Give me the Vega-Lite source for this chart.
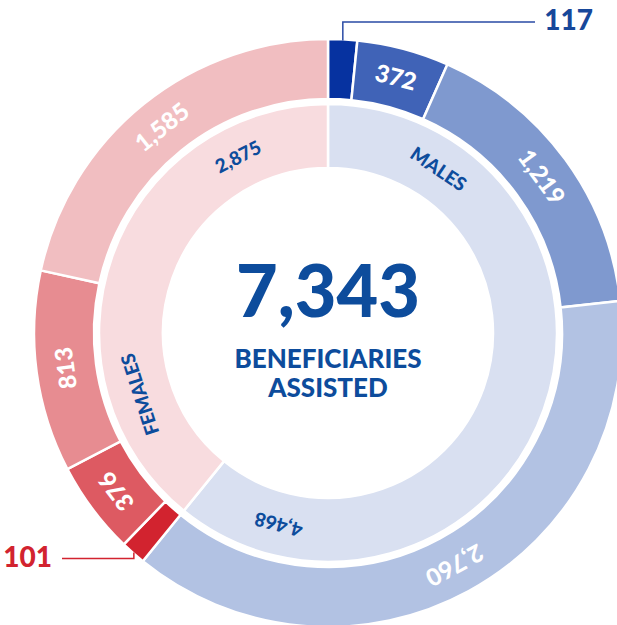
{
  "$schema": "https://vega.github.io/schema/vega-lite/v6.json",
  "width": 617,
  "height": 625,
  "autosize": "none",
  "padding": 0,
  "background": "white",
  "config": {"view": {"stroke": null}, "text": {"font": "Lato"}},
  "datasets": {
    "segments": [
      {"ring": "outer", "gender": "Males", "seg": "M1", "i": 1, "value": 117},
      {"ring": "outer", "gender": "Males", "seg": "M2", "i": 2, "value": 372},
      {"ring": "outer", "gender": "Males", "seg": "M3", "i": 3, "value": 1219},
      {"ring": "outer", "gender": "Males", "seg": "M4", "i": 4, "value": 2760},
      {"ring": "outer", "gender": "Females", "seg": "F1", "i": 5, "value": 101},
      {"ring": "outer", "gender": "Females", "seg": "F2", "i": 6, "value": 376},
      {"ring": "outer", "gender": "Females", "seg": "F3", "i": 7, "value": 813},
      {"ring": "outer", "gender": "Females", "seg": "F4", "i": 8, "value": 1585},
      {"ring": "inner", "gender": "Males", "seg": "M", "i": 1, "value": 4468},
      {"ring": "inner", "gender": "Females", "seg": "F", "i": 2, "value": 2875}
    ],
    "ringLabels": [
      {"text": "MALES", "at": 693},
      {"text": "4,468", "at": 3967},
      {"text": "FEMALES", "at": 5140},
      {"text": "2,875", "at": 6792}
    ],
    "leaders": [
      {"who": "117", "k": 1, "x": 0.0506, "y": 0.998},
      {"who": "117", "k": 2, "x": 0.0506, "y": 1.0614},
      {"who": "117", "k": 3, "x": 0.7065, "y": 1.0614},
      {"who": "101", "k": 1, "x": -0.6626, "y": -0.749},
      {"who": "101", "k": 2, "x": -0.6626, "y": -0.770},
      {"who": "101", "k": 3, "x": -0.9078, "y": -0.770}
    ],
    "callouts": [
      {"who": "117", "value": 117, "x": 0.738, "y": 1.0614},
      {"who": "101", "value": 101, "x": -0.942, "y": -0.770}
    ]
  },
  "layer": [
    {
      "data": {"name": "segments"},
      "transform": [{"filter": "datum.ring === 'outer'"}],
      "mark": {"type": "arc", "innerRadius": 234, "outerRadius": 294, "stroke": "white", "strokeWidth": 2.5},
      "encoding": {
        "x": {"datum": 0, "type": "quantitative", "scale": {"domain": [-1.11945, 0.98635], "nice": false, "zero": false}, "axis": null},
        "y": {"datum": 0, "type": "quantitative", "scale": {"domain": [-0.99659, 1.13652], "nice": false, "zero": false}, "axis": null},
        "theta": {"field": "value", "type": "quantitative", "stack": true, "scale": {"domain": [0, 7343]}},
        "order": {"field": "i", "type": "quantitative"},
        "color": {"field": "seg", "type": "nominal", "legend": null,
          "scale": {"domain": ["M1", "M2", "M3", "M4", "F1", "F2", "F3", "F4", "M", "F"],
                    "range": ["#0632A0", "#4063B7", "#7F99CF", "#B2C2E3", "#D2232F", "#DD5A62", "#E78C91", "#F1BEC1", "#D9E0F1", "#F8DCDF"]}}
      }
    },
    {
      "data": {"name": "segments"},
      "transform": [{"filter": "datum.ring === 'inner'"}],
      "mark": {"type": "arc", "innerRadius": 165, "outerRadius": 229, "stroke": "white", "strokeWidth": 2.5},
      "encoding": {
        "x": {"datum": 0, "type": "quantitative", "scale": {"domain": [-1.11945, 0.98635], "nice": false, "zero": false}, "axis": null},
        "y": {"datum": 0, "type": "quantitative", "scale": {"domain": [-0.99659, 1.13652], "nice": false, "zero": false}, "axis": null},
        "theta": {"field": "value", "type": "quantitative", "stack": true, "scale": {"domain": [0, 7343]}},
        "order": {"field": "i", "type": "quantitative"},
        "color": {"field": "seg", "type": "nominal", "legend": null}
      }
    },
    {
      "data": {"name": "segments"},
      "transform": [
        {"filter": "datum.ring === 'outer'"},
        {"window": [{"op": "sum", "field": "value", "as": "cum"}], "sort": [{"field": "i", "order": "ascending"}], "frame": [null, 0]},
        {"calculate": "datum.cum - datum.value / 2", "as": "mid"},
        {"filter": "datum.value > 200"}
      ],
      "mark": {"type": "text", "radius": 263, "fontSize": 24, "fontWeight": 900, "color": "white", "align": "center", "baseline": "middle"},
      "encoding": {
        "x": {"datum": 0, "type": "quantitative", "scale": {"domain": [-1.11945, 0.98635], "nice": false, "zero": false}, "axis": null},
        "y": {"datum": 0, "type": "quantitative", "scale": {"domain": [-0.99659, 1.13652], "nice": false, "zero": false}, "axis": null},
        "theta": {"field": "mid", "type": "quantitative", "stack": null, "scale": {"domain": [0, 7343]}},
        "angle": {"field": "mid", "type": "quantitative", "scale": {"domain": [0, 7343], "range": [0, 360]}},
        "text": {"field": "value", "type": "quantitative", "format": ","}
      }
    },
    {
      "data": {"name": "ringLabels"},
      "mark": {"type": "text", "radius": 197, "fontSize": 19, "fontWeight": 900, "color": "#0D4C9C", "align": "center", "baseline": "middle"},
      "encoding": {
        "x": {"datum": 0, "type": "quantitative", "scale": {"domain": [-1.11945, 0.98635], "nice": false, "zero": false}, "axis": null},
        "y": {"datum": 0, "type": "quantitative", "scale": {"domain": [-0.99659, 1.13652], "nice": false, "zero": false}, "axis": null},
        "theta": {"field": "at", "type": "quantitative", "stack": null, "scale": {"domain": [0, 7343]}},
        "angle": {"field": "at", "type": "quantitative", "scale": {"domain": [0, 7343], "range": [0, 360]}},
        "text": {"field": "text", "type": "nominal"}
      }
    },
    {
      "data": {"name": "segments"},
      "transform": [
        {"filter": "datum.ring === 'inner'"},
        {"aggregate": [{"op": "sum", "field": "value", "as": "total"}]}
      ],
      "mark": {"type": "text", "fontSize": 72, "fontWeight": 900, "color": "#0D4C9C", "align": "center", "baseline": "middle", "dy": -38},
      "encoding": {
        "x": {"datum": 0, "type": "quantitative", "scale": {"domain": [-1.11945, 0.98635], "nice": false, "zero": false}, "axis": null},
        "y": {"datum": 0, "type": "quantitative", "scale": {"domain": [-0.99659, 1.13652], "nice": false, "zero": false}, "axis": null},
        "text": {"field": "total", "type": "quantitative", "format": ","}
      }
    },
    {
      "data": {"values": [{"label": "center"}]},
      "mark": {"type": "text", "text": ["BENEFICIARIES", "ASSISTED"], "lineHeight": 29, "fontSize": 26, "fontWeight": 900, "color": "#0D4C9C", "align": "center", "baseline": "middle", "dy": 27},
      "encoding": {
        "x": {"datum": 0, "type": "quantitative", "scale": {"domain": [-1.11945, 0.98635], "nice": false, "zero": false}, "axis": null},
        "y": {"datum": 0, "type": "quantitative", "scale": {"domain": [-0.99659, 1.13652], "nice": false, "zero": false}, "axis": null}
      }
    },
    {
      "data": {"name": "leaders"},
      "transform": [{"filter": "datum.who === '117'"}],
      "mark": {"type": "line", "color": "#2A4BA5", "strokeWidth": 1.5},
      "encoding": {
        "x": {"field": "x", "type": "quantitative", "scale": {"domain": [-1.11945, 0.98635], "nice": false, "zero": false}, "axis": null},
        "y": {"field": "y", "type": "quantitative", "scale": {"domain": [-0.99659, 1.13652], "nice": false, "zero": false}, "axis": null},
        "order": {"field": "k", "type": "quantitative"}
      }
    },
    {
      "data": {"name": "leaders"},
      "transform": [{"filter": "datum.who === '101'"}],
      "mark": {"type": "line", "color": "#D2232F", "strokeWidth": 1.5},
      "encoding": {
        "x": {"field": "x", "type": "quantitative", "scale": {"domain": [-1.11945, 0.98635], "nice": false, "zero": false}, "axis": null},
        "y": {"field": "y", "type": "quantitative", "scale": {"domain": [-0.99659, 1.13652], "nice": false, "zero": false}, "axis": null},
        "order": {"field": "k", "type": "quantitative"}
      }
    },
    {
      "data": {"name": "callouts"},
      "transform": [{"filter": "datum.who === '117'"}],
      "mark": {"type": "text", "fontSize": 28, "fontWeight": 900, "color": "#17479A", "align": "left", "baseline": "middle"},
      "encoding": {
        "x": {"field": "x", "type": "quantitative", "scale": {"domain": [-1.11945, 0.98635], "nice": false, "zero": false}, "axis": null},
        "y": {"field": "y", "type": "quantitative", "scale": {"domain": [-0.99659, 1.13652], "nice": false, "zero": false}, "axis": null},
        "text": {"field": "value", "type": "quantitative"}
      }
    },
    {
      "data": {"name": "callouts"},
      "transform": [{"filter": "datum.who === '101'"}],
      "mark": {"type": "text", "fontSize": 28, "fontWeight": 900, "color": "#D2232F", "align": "right", "baseline": "middle"},
      "encoding": {
        "x": {"field": "x", "type": "quantitative", "scale": {"domain": [-1.11945, 0.98635], "nice": false, "zero": false}, "axis": null},
        "y": {"field": "y", "type": "quantitative", "scale": {"domain": [-0.99659, 1.13652], "nice": false, "zero": false}, "axis": null},
        "text": {"field": "value", "type": "quantitative"}
      }
    }
  ]
}
